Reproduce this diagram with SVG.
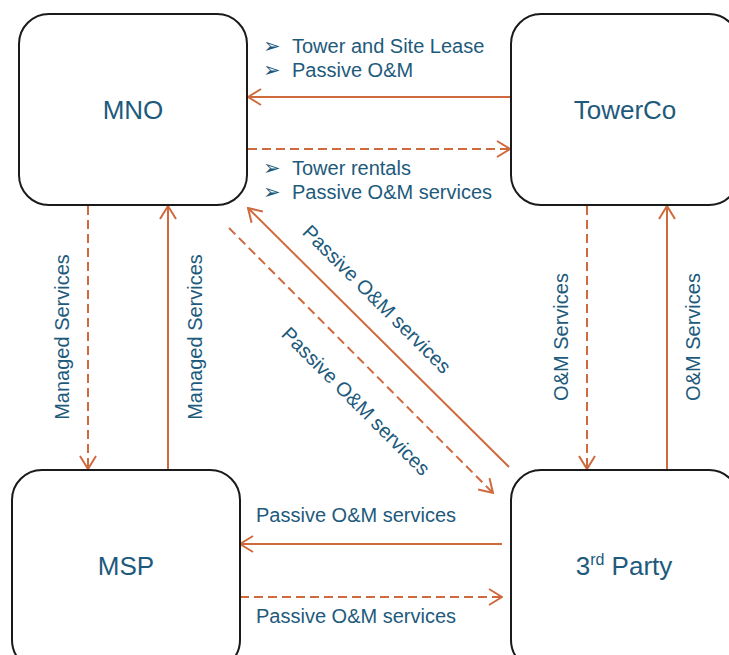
<svg xmlns="http://www.w3.org/2000/svg" width="729" height="655" viewBox="0 0 729 655">
<style>
.box{fill:#fff;stroke:#1a1a1a;stroke-width:2}
.node{font-family:"Liberation Sans",Arial,sans-serif;font-size:26px;fill:#1D5A7C;text-anchor:middle}
.lbl{font-family:"Liberation Sans",Arial,sans-serif;font-size:20px;fill:#1D5A7C}
.mid{text-anchor:middle}
.bul{font-family:"DejaVu Sans",sans-serif;font-size:21px;fill:#1D5A7C}
.c{stroke:#CF6A3E;stroke-width:2;fill:none}
.d{stroke-dasharray:9 5}
</style>
<defs>
<marker id="ah" viewBox="0 0 15 18" refX="14" refY="9" markerWidth="15" markerHeight="18" markerUnits="userSpaceOnUse" orient="auto">
<path d="M1,1 L14,9 L1,17" fill="none" stroke="#CF6A3E" stroke-width="2"/>
</marker>
</defs>
<g id="connectors">
<line class="c" x1="511" y1="97" x2="248" y2="97" marker-end="url(#ah)"/>
<line class="c d" x1="248" y1="149" x2="510" y2="149" marker-end="url(#ah)"/>
<line class="c d" x1="88" y1="206" x2="88" y2="469" marker-end="url(#ah)"/>
<line class="c" x1="168" y1="470" x2="168" y2="206" marker-end="url(#ah)"/>
<line class="c d" x1="587" y1="206" x2="587" y2="469" marker-end="url(#ah)"/>
<line class="c" x1="667" y1="470" x2="667" y2="206" marker-end="url(#ah)"/>
<line class="c" x1="509" y1="467" x2="248" y2="208" marker-end="url(#ah)"/>
<line class="c d" x1="229" y1="228" x2="493" y2="493" marker-end="url(#ah)"/>
<line class="c" x1="502" y1="544" x2="240" y2="544" marker-end="url(#ah)"/>
<line class="c d" x1="240" y1="597" x2="502" y2="597" marker-end="url(#ah)"/>
</g>
<g id="labels">
<text class="bul" x="263" y="53">➢</text>
<text class="lbl" x="292" y="53">Tower and Site Lease</text>
<text class="bul" x="263" y="77">➢</text>
<text class="lbl" x="292" y="77">Passive O&amp;M</text>
<text class="bul" x="263" y="175">➢</text>
<text class="lbl" x="292" y="175">Tower rentals</text>
<text class="bul" x="263" y="199">➢</text>
<text class="lbl" x="292" y="199">Passive O&amp;M services</text>
<text class="lbl mid" transform="translate(69,337) rotate(-90)">Managed Services</text>
<text class="lbl mid" transform="translate(202,337) rotate(-90)">Managed Services</text>
<text class="lbl mid" transform="translate(568,337) rotate(-90)">O&amp;M Services</text>
<text class="lbl mid" transform="translate(700,337) rotate(-90)">O&amp;M Services</text>
<text class="lbl mid" transform="translate(372,304) rotate(45)">Passive O&amp;M services</text>
<text class="lbl mid" transform="translate(351,406) rotate(45)">Passive O&amp;M services</text>
<text class="lbl" x="256" y="522">Passive O&amp;M services</text>
<text class="lbl" x="256" y="623">Passive O&amp;M services</text>
</g>
<g id="mno">
<rect class="box" x="19" y="14" width="228" height="191" rx="30"/>
<text class="node" x="133" y="119">MNO</text>
</g>
<g id="towerco">
<rect class="box" x="511" y="14" width="228" height="191" rx="30"/>
<text class="node" x="625" y="119">TowerCo</text>
</g>
<g id="msp">
<rect class="box" x="12" y="470" width="228" height="200" rx="30"/>
<text class="node" x="126" y="575">MSP</text>
</g>
<g id="thirdparty">
<rect class="box" x="511" y="470" width="228" height="200" rx="30"/>
<text class="node" x="624" y="575">3<tspan font-size="16" dy="-10">rd</tspan><tspan dy="10"> Party</tspan></text>
</g>
</svg>
